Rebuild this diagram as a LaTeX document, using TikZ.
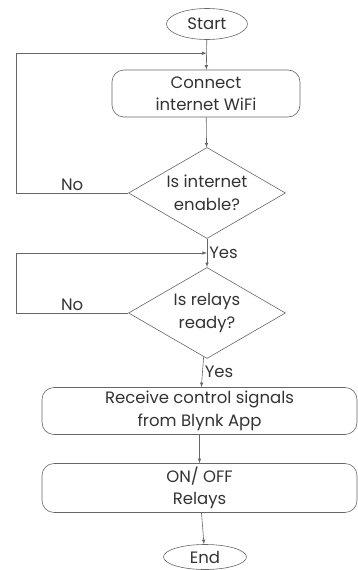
\documentclass[tikz,border=0pt]{standalone}
\usepackage{fontspec}
\setmainfont{Poppins}
\usetikzlibrary{
	calc,
	shapes.geometric
}

\begin{document}
\begin{tikzpicture}[
	>=latex,
	x=1pt, y=-1pt,
	line width=0.6pt,
	every node/.style={font=\fontsize{16.5}{22.5}\selectfont, text=black!80},
	term/.style={draw=black!60, ellipse, inner sep=0, minimum width=81pt, minimum height=31pt},
	stepbox/.style={draw=black!60, rounded corners=12pt, align=center, minimum height=47pt},
	ask/.style={draw=black!60, diamond, aspect=1.72, inner sep=-4pt, align=center, minimum width=157pt, minimum height=91pt},
	flow/.style={draw=black!60, ->}
]
	\useasboundingbox (0,0) rectangle (358,570);

	\node(start)[term] at (207,24) {Start};
	\node(connect)[stepbox, minimum width=188pt] at (206,93.5) {Connect\\internet WiFi};
	\node(askNet)[ask] at (207,193) {Is internet\\enable?};
	\node(askRelay)[ask] at (207,313) {Is relays\\ready?};
	\node(receive)[stepbox, minimum width=315pt] at (199.5,411) {Receive control signals\\from Blynk App};
	\node(relays)[stepbox, minimum width=315pt] at (199.5,488) {ON/ OFF\\Relays};
	\node(end)[term, minimum height=25pt, minimum width=83pt] at (205,557) {End};

	\coordinate (J1) at ($(start.south)!0.45!(connect.north)$);
	\coordinate (J2) at ($(askNet.south)!0.5!(askRelay.north)$);

	\draw[flow] (start) -- (connect);
	\draw[flow] (connect) -- (askNet);
	\draw[flow] (askNet) -- node[right, inner sep=2pt]{Yes} (askRelay);
	\draw[flow] (askRelay) -- node[right, inner sep=2pt]{Yes} (receive);
	\draw[flow] (receive) -- (relays);
	\draw[flow] (relays) -- (end);

	\draw[flow] (askNet.west) -- node[above, inner sep=2pt]{No} ++(-112,0) |- (J1);
	\draw[flow] (askRelay.west) -- node[above, inner sep=2pt]{No} ++(-112,0) |- (J2);
\end{tikzpicture}
\end{document}
